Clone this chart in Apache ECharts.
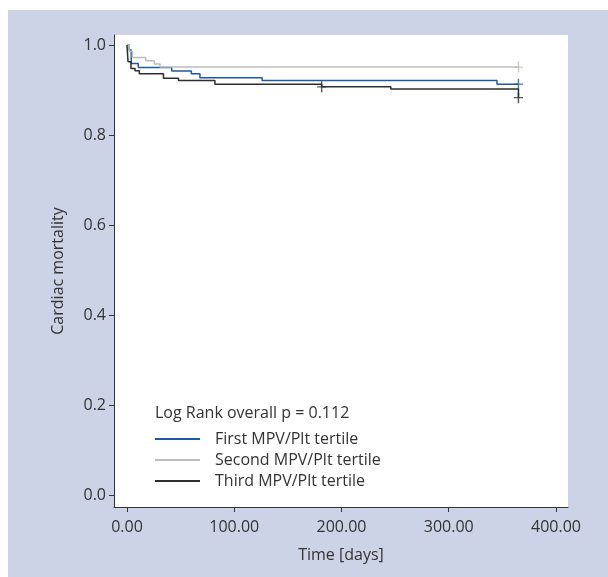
<!DOCTYPE html>
<html>
<head>
<meta charset="utf-8">
<script src="https://cdn.jsdelivr.net/npm/echarts@6/dist/echarts.min.js"></script>
<style>
  body { margin: 0; background: #ffffff; }
  #panel { position: absolute; left: 8px; top: 10px; width: 600px; height: 567px; background: #cdd3e6; }
  #kmChart { position: absolute; left: 0; top: 0; width: 608px; height: 577px; }
</style>
</head>
<body>
<!-- 背景面板 + 生存曲线容器 -->
<div id="panel"></div>
<div id="kmChart"></div>
<script>
// 坐标轴刻度
const xTicks = [0, 100, 200, 300, 400]
const yTicks = [0, 0.2, 0.4, 0.6, 0.8, 1.0]

// 三个分组的 Kaplan-Meier 阶梯 (时间, 生存率)
const seriesNames = ['First MPV/Plt tertile', 'Second MPV/Plt tertile', 'Third MPV/Plt tertile']
const timeFirst = [0, 2, 4, 10.5, 41.7, 60, 68, 126, 345, 365]
const survFirst = [1, 0.989, 0.959, 0.950, 0.942, 0.936, 0.927, 0.921, 0.913, 0.913]
const timeSecond = [0, 2, 5, 17.4, 25.5, 30.8, 365]
const survSecond = [1, 0.986, 0.972, 0.965, 0.958, 0.951, 0.951]
const timeThird = [0, 1, 3.7, 7.5, 11.5, 34, 48, 82, 181.5, 246, 365]
const survThird = [1, 0.963, 0.948, 0.943, 0.936, 0.926, 0.921, 0.913, 0.907, 0.902, 0.883]

// 删失标记
const censorFirst = [[365, 0.913]]
const censorSecond = [[365, 0.951]]
const censorThird = [[181.5, 0.907], [365, 0.883]]

const pValueText = 'Log Rank overall p = 0.112'

const colors = ['#1c5aa6', '#bdbdbd', '#2e2e2e']
const font = 'Open Sans'
const plusIcon = 'path://M-0.16,-1 L0.16,-1 L0.16,-0.12 L1,-0.12 L1,0.12 L0.16,0.12 L0.16,1 L-0.16,1 L-0.16,0.12 L-1,0.12 L-1,-0.12 L-0.16,-0.12 Z'

function pairs(ts, vs) {
    return ts.map((t, i) => [t, vs[i]])
}

function stepSeries(name, ts, vs, color) {
    return {
        name: name,
        type: 'line',
        step: 'end',
        data: pairs(ts, vs),
        showSymbol: false,
        lineStyle: { color: color, width: 1.5 },
        itemStyle: { color: color },
        animation: false
    }
}

function censorSeries(data, color) {
    return {
        type: 'scatter',
        data: data,
        symbol: plusIcon,
        symbolSize: [9, 11],
        itemStyle: { color: color },
        animation: false
    }
}

var chartDom = document.getElementById('kmChart')
var myChart = echarts.init(chartDom)

var option = {
    textStyle: { fontFamily: font },
    title: {
        text: pValueText,
        left: 155,
        top: 405,
        padding: 0,
        textStyle: { fontFamily: font, fontSize: 16, fontWeight: 'normal', color: '#333' }
    },
    legend: {
        data: seriesNames,
        orient: 'vertical',
        left: 155,
        top: 430,
        padding: 0,
        itemWidth: 45,
        itemHeight: 2,
        itemGap: 3,
        icon: 'rect',
        textStyle: { fontFamily: font, fontSize: 16, color: '#333', lineHeight: 18, padding: [0, 0, 0, 10] }
    },
    grid: {
        left: 114,
        right: 40,
        top: 35,
        bottom: 70,
        show: true,
        backgroundColor: '#ffffff',
        borderWidth: 0
    },
    xAxis: {
        type: 'value',
        min: -12.1,
        max: 411.2,
        name: 'Time [days]',
        nameLocation: 'middle',
        nameGap: 40,
        nameTextStyle: { fontFamily: font, fontSize: 16, color: '#333' },
        axisLine: { show: true, onZero: false, lineStyle: { color: '#333', width: 1 } },
        axisTick: { show: true, length: 5, customValues: xTicks, lineStyle: { color: '#333' } },
        axisLabel: {
            customValues: xTicks,
            formatter: v => v.toFixed(2),
            fontFamily: font, fontSize: 16, color: '#333', margin: 12
        },
        splitLine: { show: false }
    },
    yAxis: {
        type: 'value',
        min: -0.0267,
        max: 1.0222,
        name: 'Cardiac mortality',
        nameLocation: 'middle',
        nameGap: 48,
        nameTextStyle: { fontFamily: font, fontSize: 16, color: '#333' },
        axisLine: { show: true, onZero: false, lineStyle: { color: '#333', width: 1 } },
        axisTick: { show: true, length: 5, customValues: yTicks, lineStyle: { color: '#333' } },
        axisLabel: {
            customValues: yTicks,
            formatter: v => v.toFixed(1),
            fontFamily: font, fontSize: 16, color: '#333', margin: 8
        },
        splitLine: { show: false }
    },
    series: [
        stepSeries(seriesNames[0], timeFirst, survFirst, colors[0]),
        stepSeries(seriesNames[1], timeSecond, survSecond, colors[1]),
        stepSeries(seriesNames[2], timeThird, survThird, colors[2]),
        censorSeries(censorFirst, colors[0]),
        censorSeries(censorSecond, colors[1]),
        censorSeries(censorThird, colors[2])
    ]
}

option && myChart.setOption(option)
</script>
</body>
</html>
